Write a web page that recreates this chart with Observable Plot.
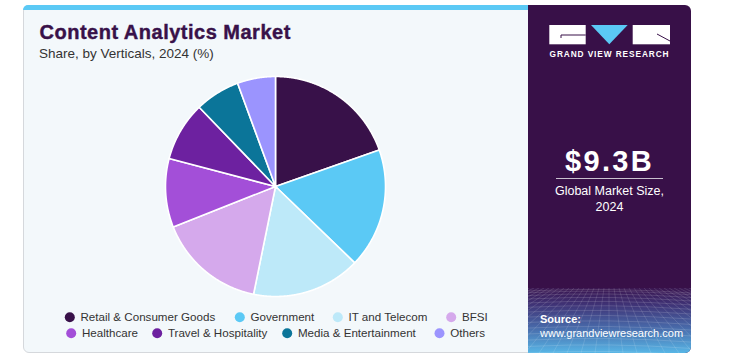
<!DOCTYPE html>
<html><head><meta charset="utf-8">
<script src="https://cdn.jsdelivr.net/npm/d3@7"></script>
<script src="https://cdn.jsdelivr.net/npm/@observablehq/plot@0.6"></script>
<style>
body{margin:0;width:733px;height:357px;background:#fff;position:relative;overflow:hidden;font-family:"Liberation Sans",Arial,sans-serif;}
.abs{position:absolute;}
#left{left:23px;top:5px;width:506px;height:348px;background:#f3f8fb;border:1px solid #d5d8dc;border-radius:6px 0 0 6px;box-sizing:border-box;}
#strip{left:23px;top:5px;width:505px;height:5px;background:#5bc9f5;border-radius:6px 0 0 0;}
#title{left:39.5px;top:20.5px;font-size:20px;font-weight:bold;color:#381149;white-space:nowrap;letter-spacing:0.5px;-webkit-text-stroke:0.4px #381149;}
#subtitle{left:39px;top:46px;font-size:13.5px;color:#333;white-space:nowrap;}
#right{left:528px;top:5px;width:163px;height:348px;background:#381048;border-radius:0 6px 6px 0;overflow:hidden;}
#mesh{left:0;top:283px;width:163px;height:65px;background:linear-gradient(to bottom,#3a1650 0%,#3f3275 25%,#4868a8 60%,#58b6e6 100%);}
#big{left:0;width:163px;top:140px;text-align:center;color:#fff;font-size:29px;font-weight:bold;letter-spacing:2.3px;}
#rule{left:28px;top:173px;width:107px;height:1px;background:#c9c1cf;}
#gms{left:0;width:163px;top:179px;text-align:center;color:#fff;font-size:12.5px;line-height:15.5px;}
#src{left:12px;top:308px;color:#fff;font-size:11px;line-height:13.5px;}
#pie{left:165px;top:75.7px;}
#legend{left:0;top:300px;}
</style></head><body>
<div id="left" class="abs"></div>
<div id="strip" class="abs"></div>
<div id="title" class="abs">Content Analytics Market</div>
<div id="subtitle" class="abs">Share, by Verticals, 2024 (%)</div>
<div id="right" class="abs">
  <div id="mesh" class="abs"></div>
  <svg class="abs" style="left:0;top:283px" width="163" height="65" id="meshsvg"></svg>
  <svg class="abs" style="left:0;top:0" width="163" height="70">
    <rect x="21.3" y="20" width="36.4" height="19.3" fill="#fff"/>
    <path d="M33 30 H57.7 M33 30 V33" stroke="#381048" stroke-width="1" fill="none"/>
    <polygon points="63,20 99.7,20 81.3,39.3" fill="#5bc9f5"/>
    <rect x="104.7" y="20" width="37.3" height="19.3" fill="#fff"/>
    <path d="M129 29 L142 36" stroke="#381048" stroke-width="1" fill="none"/>
    <text x="81.5" y="52.3" text-anchor="middle" fill="#fff" font-size="8.3" font-weight="bold" letter-spacing="0.9" font-family="Liberation Sans, Arial, sans-serif">GRAND VIEW RESEARCH</text>
  </svg>
  <div id="big" class="abs">$9.3B</div>
  <div id="rule" class="abs"></div>
  <div id="gms" class="abs">Global Market Size,<br>2024</div>
  <div id="src" class="abs"><b>Source:</b><br>www.grandviewresearch.com</div>
</div>
<div id="pie" class="abs"></div>
<div id="legend" class="abs"></div>
<script>
// ---- data ----
const categories = ["Retail & Consumer Goods", "Government", "IT and Telecom", "BFSI", "Healthcare", "Travel & Hospitality", "Media & Entertainment", "Others"];
const shares = [19.6, 17.6, 16.0, 15.8, 10.1, 8.7, 6.6, 5.6];
const colors = ["#381149", "#5bc9f5", "#bde9f9", "#d5a9ec", "#a34fd8", "#6d21a0", "#0b7599", "#9b94fe"];
// legend layout (two rows)
const legendRow = [0, 0, 0, 0, 1, 1, 1, 1];
const legendDotX = [69.3, 239.3, 337.3, 450.7, 70.7, 156.7, 286.7, 439];

const rows = categories.map((c, i) => ({category: c, share: shares[i]}));
const arcs = d3.pie().sort(null).value(d => d.share)(rows);
const features = arcs.map(a => {
  const pts = [[0, 0]];
  const n = Math.max(2, Math.ceil((a.endAngle - a.startAngle) / 0.005));
  for (let k = 0; k <= n; k++) {
    const t = a.startAngle + (a.endAngle - a.startAngle) * k / n;
    pts.push([Math.sin(t), -Math.cos(t)]);
  }
  pts.push([0, 0]);
  return {type: "Feature", properties: {category: a.data.category}, geometry: {type: "Polygon", coordinates: [pts]}};
});
const colorScale = {domain: categories, range: colors};

const pie = Plot.plot({
  width: 220, height: 220, margin: 0,
  style: {background: "transparent", overflow: "visible"},
  projection: {type: "identity", domain: {type: "MultiPoint", coordinates: [[-1, -1], [1, 1]]}},
  color: colorScale,
  marks: [Plot.geo(features, {fill: d => d.properties.category, stroke: "white", strokeWidth: 1.6})]
});
document.getElementById("pie").append(pie);

const legendData = categories.map((c, i) => ({category: c, x: legendDotX[i], y: legendRow[i] === 0 ? 16.7 : 32.7}));
const legend = Plot.plot({
  width: 528, height: 45, margin: 0,
  style: {background: "transparent", overflow: "visible", fontFamily: "Liberation Sans, Arial, sans-serif"},
  x: {type: "identity", axis: null}, y: {type: "identity", axis: null},
  color: colorScale,
  marks: [
    Plot.dot(legendData, {x: "x", y: "y", fill: "category", r: 5}),
    Plot.text(legendData, {x: "x", y: "y", text: "category", dx: 10.7, textAnchor: "start", fontSize: 11.6, fill: "#333"})
  ]
});
document.getElementById("legend").append(legend);

// decorative mesh in source panel
const ms = d3.select("#meshsvg");
for (let i = 0; i < 14; i++) {
  const y = 3 + Math.pow(i / 13, 1.4) * 62;
  ms.append("path").attr("d", `M0 ${y} Q81 ${y - 4} 163 ${y + 2}`).attr("stroke", "rgba(255,255,255,0.18)").attr("fill", "none").attr("stroke-width", 0.8);
}
for (let i = -10; i <= 24; i++) {
  const x0 = 81 + (i - 7) * 5, x1 = 81 + (i - 7) * 14;
  ms.append("line").attr("x1", x0).attr("y1", 0).attr("x2", x1).attr("y2", 65).attr("stroke", "rgba(255,255,255,0.16)").attr("stroke-width", 0.8);
}
</script>
</body></html>
